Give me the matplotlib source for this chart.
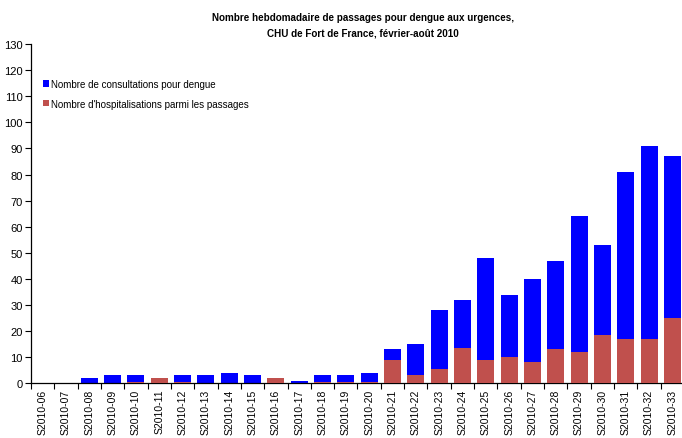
import matplotlib
matplotlib.use("Agg")
import matplotlib.pyplot as plt
import numpy as np

weeks = ["S2010-%02d" % w for w in range(6, 34)]
consultations = [0, 0, 2, 3, 3, 2, 3, 3, 4, 3, 2, 1, 3, 3, 4,
                 13, 15, 28, 32, 48, 34, 40, 47, 64, 53, 81, 91, 87]
hospitalisations = [0, 0, 0, 0, 0.5, 2, 0.5, 0, 0, 0, 2, 0, 0.5, 0.5, 0.5,
                    9, 3, 5.5, 13.5, 9, 10, 8, 13, 12, 18.5, 17, 17, 25]

plt.rcParams['font.family'] = ['Liberation Sans', 'DejaVu Sans']

fig = plt.figure(figsize=(6.82, 4.39), dpi=100)
W, H = 682, 439
left, right = 31, 684
bottom, top = 384.3, 45
ax = fig.add_axes([left / W, (H - bottom) / H, (right - left) / W, (bottom - top) / H])

x = np.arange(len(weeks))
bw = 0.73
ax.bar(x, consultations, width=bw, color='#0000FF', label='Nombre de consultations pour dengue', zorder=2)
ax.bar(x, hospitalisations, width=bw, color='#C0504D', label="Nombre d'hospitalisations parmi les passages", zorder=3)

ax.set_xlim(-0.5, len(weeks) - 0.5)
ax.set_ylim(0, 130)
ax.set_yticks(range(0, 131, 10))
ax.tick_params(axis='y', labelsize=8, length=4, width=0.8, pad=2, direction='out')

ax.set_xticks(x)
ax.set_xticklabels(weeks, rotation=90, fontsize=7.5)
ax.tick_params(axis='x', which='major', length=0, pad=4)
ax.set_xticks(np.arange(-0.5, len(weeks), 1), minor=True)
ax.tick_params(axis='x', which='minor', length=4, width=0.8, direction='out')

for s in ['top', 'right']:
    ax.spines[s].set_visible(False)
for s in ['left', 'bottom']:
    ax.spines[s].set_linewidth(0.9)
    ax.spines[s].set_color('black')

leg = ax.legend(loc='upper left', bbox_to_anchor=(43 / W, 1 - 80 / H),
                bbox_transform=fig.transFigure, frameon=False,
                fontsize=7, handlelength=0.6, handleheight=0.6, handletextpad=0.25,
                labelspacing=1.0, borderaxespad=0, borderpad=0)

cx = 363 / W
fig.text(cx, 1 - 18 / H, "Nombre hebdomadaire de passages pour dengue aux urgences,",
         ha='center', va='center', fontsize=7.1, fontweight='bold')
fig.text(cx, 1 - 34 / H, "CHU de Fort de France, février-août 2010",
         ha='center', va='center', fontsize=7.1, fontweight='bold')

fig.savefig("out.png", dpi=100)
